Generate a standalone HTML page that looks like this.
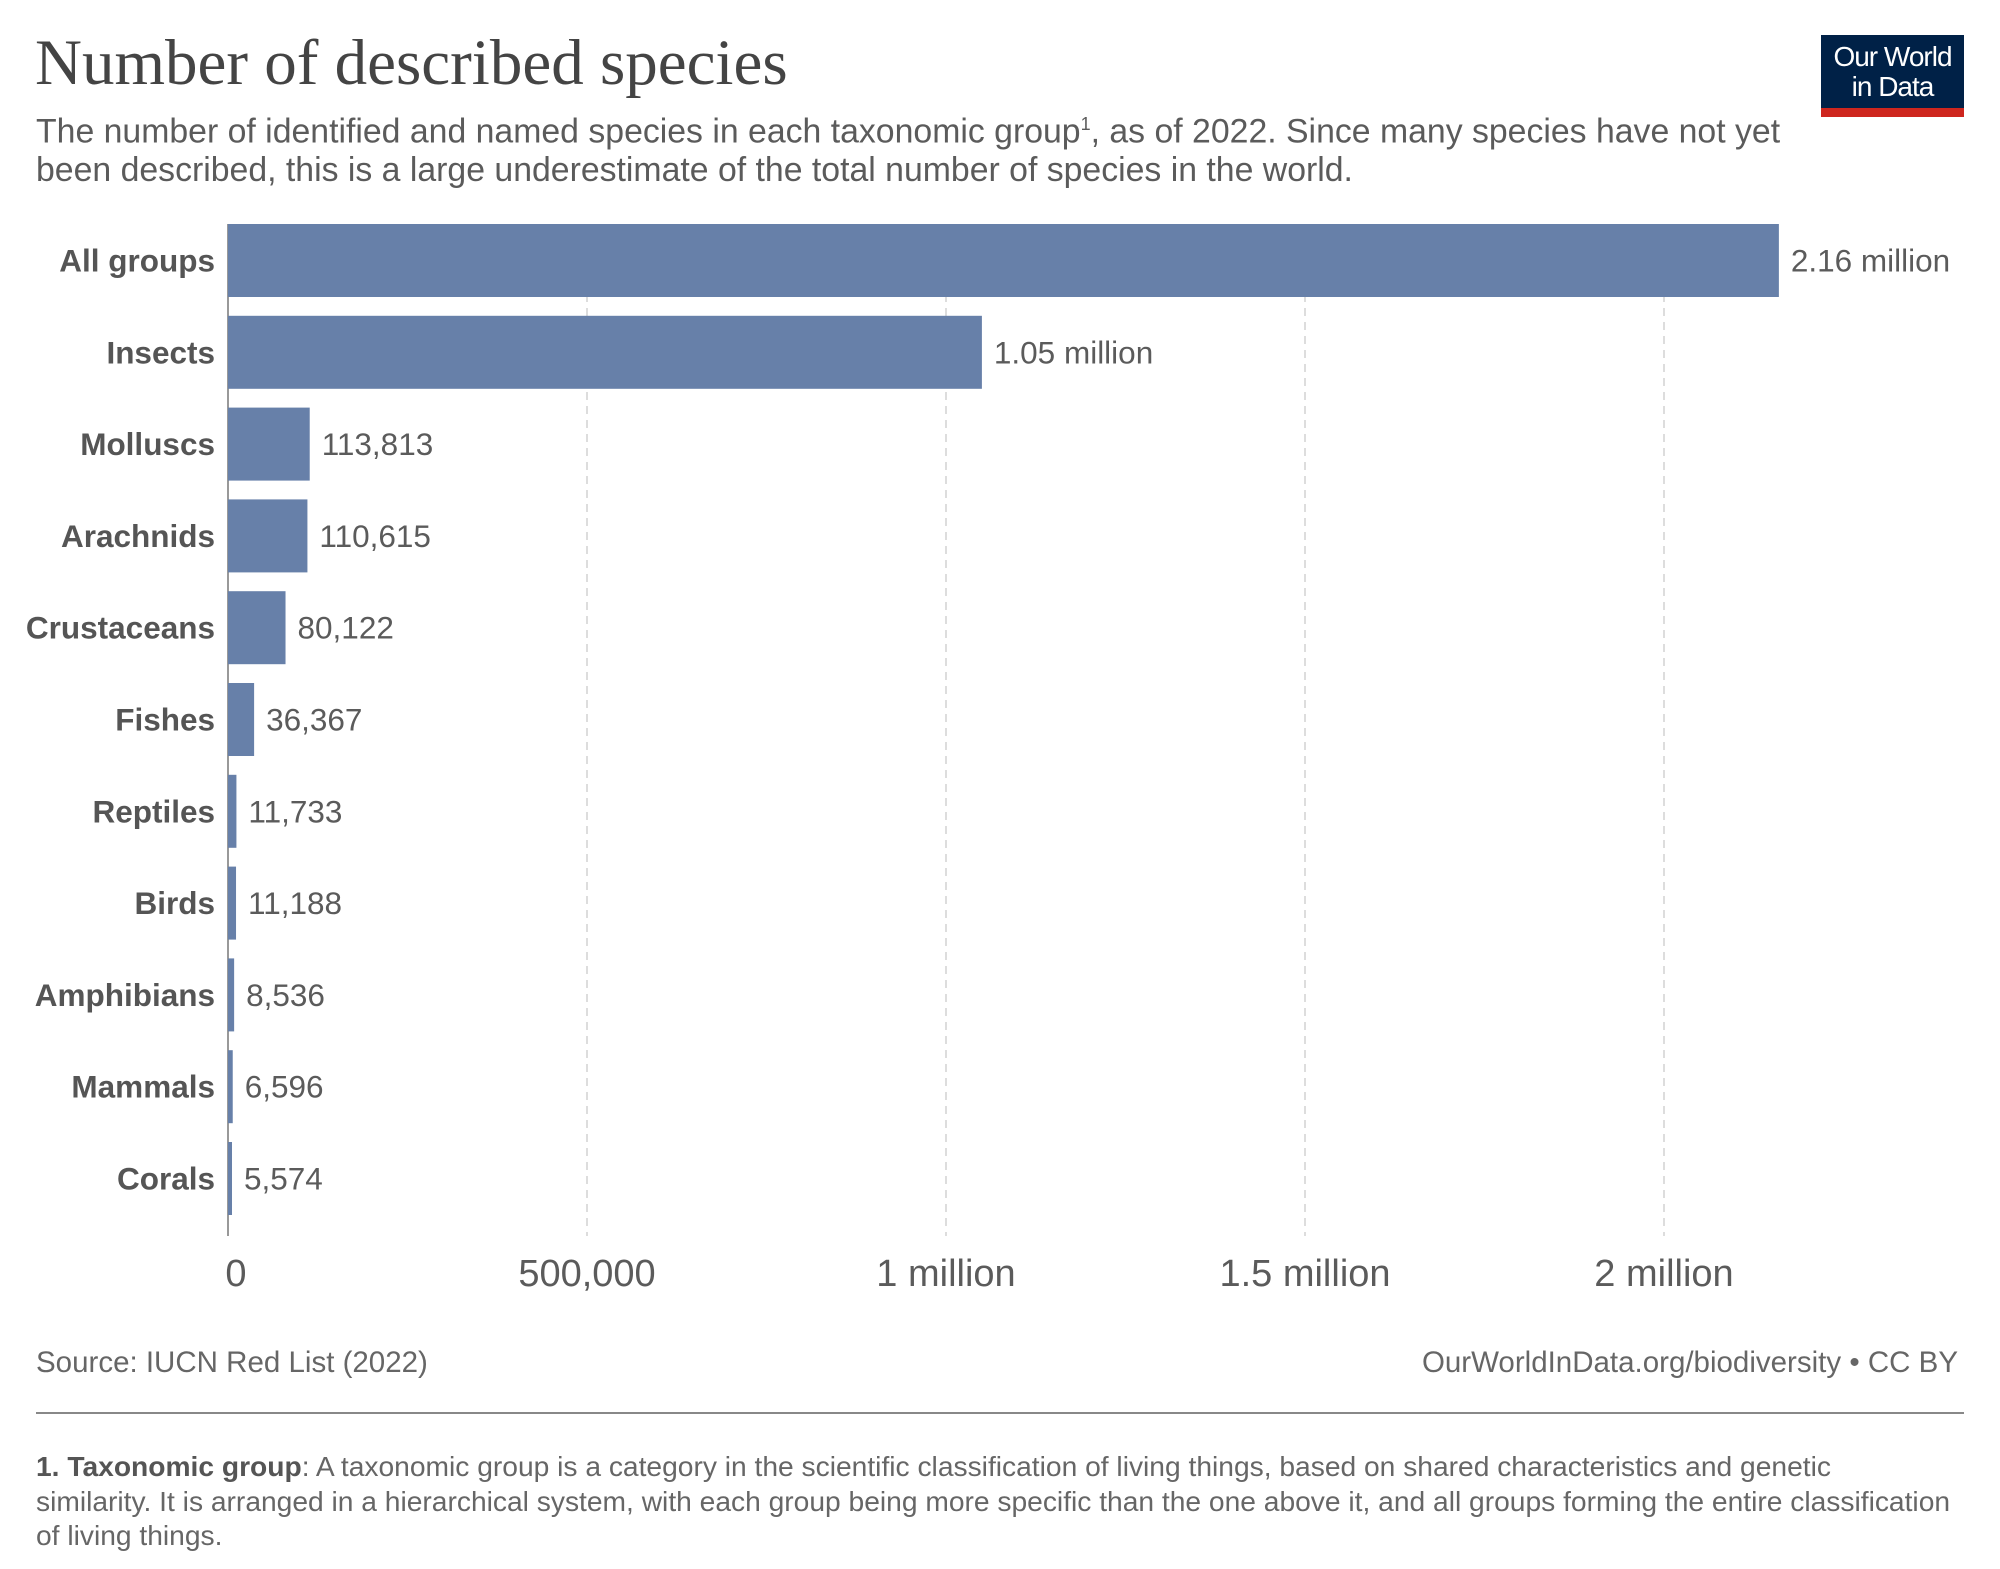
<!DOCTYPE html>
<html><head><meta charset="utf-8"><style>
html,body{margin:0;padding:0;background:#fff;}
body{width:2000px;height:1569px;position:relative;overflow:hidden;font-family:"Liberation Sans",sans-serif;}
.abs{position:absolute;}
</style></head><body>
<div class="abs" style="left:35px;top:26px;font-family:'Liberation Serif',serif;font-size:65px;color:#444;white-space:nowrap;">Number of described species</div>
<div class="abs" style="left:36px;top:105px;font-size:33.8px;line-height:38.5px;color:#5b5b5b;width:1820px;white-space:nowrap;">The number of identified and named species in each taxonomic group<sup style="font-size:18px">1</sup>, as of 2022. Since many species have not yet<br>been described, this is a large underestimate of the total number of species in the world.</div>
<div class="abs" style="left:1821px;top:35px;width:143px;height:82px;background:#002147;">
<div style="position:absolute;left:0;right:0;bottom:0;height:9px;background:#ce261e;"></div>
<div style="position:absolute;left:0;right:0;top:7px;text-align:center;color:#fff;font-size:28px;line-height:30px;font-family:'Liberation Sans Narrow','Liberation Sans',sans-serif;letter-spacing:-1px;">Our World<br>in Data</div></div>
<svg class="abs" style="left:0;top:0" width="2000" height="1569" id="chart"></svg>
<div class="abs" style="left:36px;top:1346px;font-size:29.5px;color:#666;">Source: IUCN Red List (2022)</div>
<div class="abs" style="right:42px;top:1346px;font-size:29.5px;color:#666;white-space:nowrap;">OurWorldInData.org/biodiversity • CC BY</div>
<div class="abs" style="left:36px;top:1412px;width:1928px;height:2px;background:#888;"></div>
<div class="abs" style="left:36px;top:1449px;width:1940px;font-size:28.2px;line-height:34.6px;color:#666;"><b style="color:#555">1. Taxonomic group</b>: A taxonomic group is a category in the scientific classification of living things, based on shared characteristics and genetic<br>similarity. It is arranged in a hierarchical system, with each group being more specific than the one above it, and all groups forming the entire classification<br>of living things.</div>
<script>
const categories=["All groups","Insects","Molluscs","Arachnids","Crustaceans","Fishes","Reptiles","Birds","Amphibians","Mammals","Corals"];
const values=[2160000,1050000,113813,110615,80122,36367,11733,11188,8536,6596,5574];
const valueLabels=["2.16 million","1.05 million","113,813","110,615","80,122","36,367","11,733","11,188","8,536","6,596","5,574"];
const ticks=[0,500000,1000000,1500000,2000000];
const tickLabels=["0","500,000","1 million","1.5 million","2 million"];
const NS="http://www.w3.org/2000/svg";
const svg=document.getElementById('chart');
const x0=228,pxPerUnit=718/1e6,top0=224,pitch=91.8,bh=73,axisBottom=1236;
const X=v=>x0+v*pxPerUnit;
const Y=i=>top0+i*pitch;
function mk(t,a){const e=document.createElementNS(NS,t);for(const k in a)e.setAttribute(k,a[k]);svg.appendChild(e);return e;}
ticks.forEach((t,i)=>{
 if(t>0){const g=mk('line',{x1:X(t),x2:X(t),y1:top0,y2:axisBottom,stroke:'#ddd','stroke-width':2,'stroke-dasharray':'8,6'});
 
 }
 const tx=mk('text',{x:X(t)+(t===0?8:0),y:1286,'text-anchor':'middle','font-size':38,fill:'#5b5b5b','font-family':'Liberation Sans, sans-serif'});
 tx.textContent=tickLabels[i];
 
 
});
const ax=mk('line',{x1:x0,x2:x0,y1:top0,y2:axisBottom,stroke:'#999','stroke-width':2});


categories.forEach((c,i)=>{
 const y=Y(i);
 const r=mk('rect',{x:x0,y:y,width:Math.max(X(values[i])-x0,1),height:bh,fill:'#6780a9'});
 
 
 const l=mk('text',{x:215,y:y+bh/2+11,'text-anchor':'end','font-size':31.5,'font-weight':'bold',fill:'#555','font-family':'Liberation Sans, sans-serif'});
 l.textContent=c;
 
 
 const v=mk('text',{x:X(values[i])+12,y:y+bh/2+11,'font-size':31.5,fill:'#5b5b5b','font-family':'Liberation Sans, sans-serif'});
 v.textContent=valueLabels[i];
 
 
});
</script>
</body></html>
